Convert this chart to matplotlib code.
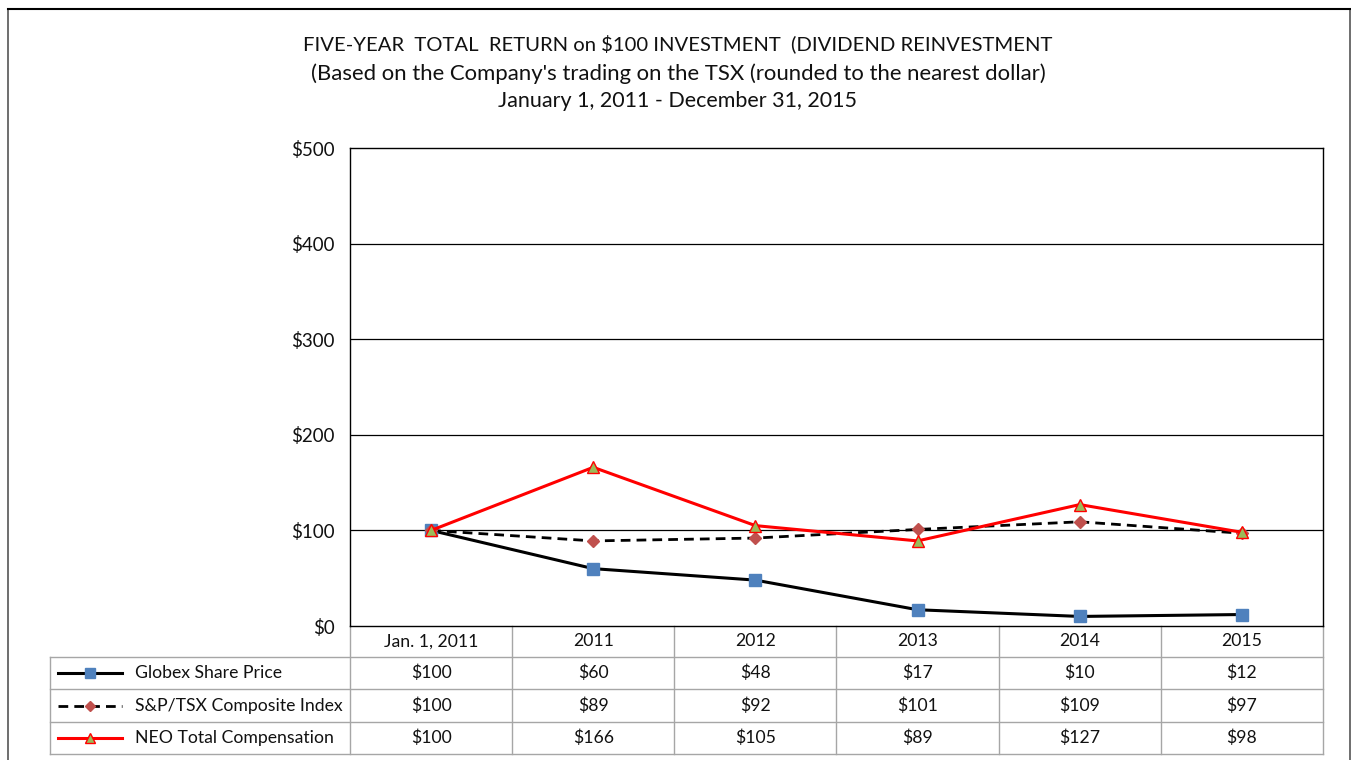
import matplotlib
matplotlib.use("Agg")
import matplotlib.pyplot as plt
from matplotlib.lines import Line2D
import matplotlib.transforms as mtransforms

plt.rcParams['font.family'] = ['Lato', 'DejaVu Sans']

categories = ["Jan. 1, 2011", "2011", "2012", "2013", "2014", "2015"]
globex = [100, 60, 48, 17, 10, 12]
sptsx = [100, 89, 92, 101, 109, 97]
neo = [100, 166, 105, 89, 127, 98]
series_names = ["Globex Share Price", "S&P/TSX Composite Index", "NEO Total Compensation"]
yticks = [0, 100, 200, 300, 400, 500]
title_lines = ["FIVE-YEAR  TOTAL  RETURN on $100 INVESTMENT  (DIVIDEND REINVESTMENT",
               "(Based on the Company's trading on the TSX (rounded to the nearest dollar)",
               "January 1, 2011 - December 31, 2015"]

W, H = 1351, 760
fig = plt.figure(figsize=(W / 100, H / 100), dpi=100)

# overlay axes in pixel coordinates
ov = fig.add_axes([0, 0, 1, 1])
ov.set_xlim(0, W)
ov.set_ylim(H, 0)
ov.axis('off')

# outer frame
ov.plot([8, 8, 1350, 1350], [H + 5, 9, 9, H + 5], color='#555555', lw=1.2, solid_joinstyle='miter')
ov.plot([8, 1350], [9, 9], color='black', lw=1.5)

# title
for t, y, fs in zip(title_lines, [44, 74, 101], [14.6, 15.9, 15.5]):
    ov.text(678, y, t, ha='center', va='center', fontsize=fs, color='#111111')

left, right, top, bottom = 350, 1323, 148, 626
ax = fig.add_axes([left / W, 1 - bottom / H, (right - left) / W, (bottom - top) / H])
ax.set_zorder(2)
ax.patch.set_alpha(0)
x = list(range(len(categories)))

styles = [
    dict(color='black', lw=2.2, ls='-', marker='s', mfc='#4F81BD', mec='#4F81BD', ms=8),
    dict(color='black', lw=2.0, ls=(0, (3.5, 2.2)), marker='D', mfc='#C0504D', mec='#C0504D', ms=6.5),
    dict(color='#FF0000', lw=2.2, ls='-', marker='^', mfc='#9BBB59', mec='#FF0000', ms=9, mew=1.0),
]
for vals, st in zip([globex, sptsx, neo], styles):
    ax.plot(x, vals, clip_on=False, **st)

ax.set_xlim(-0.5, len(categories) - 0.5)
ax.set_ylim(0, 500)
ax.set_yticks(yticks)
ax.set_yticklabels([f"${v}" for v in yticks], fontsize=13.5, color='#111111')
ax.tick_params(axis='y', length=0, pad=11)
ax.set_xticks([])
for v in yticks[1:-1]:
    ax.axhline(v, color='black', lw=0.9, zorder=0)
for s in ax.spines.values():
    s.set_color('black')
    s.set_linewidth(1.0)

# data table
trans = mtransforms.blended_transform_factory(ax.transData, ov.transData)
row_edges = [626, 657, 689, 722, 754]
gc = '#A6A6A6'
tfs = 12.7
for i in range(len(categories) + 1):
    xb = i - 0.5
    ov.plot([xb, xb], [row_edges[0], row_edges[-1]], color=gc, lw=1.0, transform=trans)
for ye in row_edges[1:]:
    ov.plot([50, 1323], [ye, ye], color=gc, lw=1.0)
ov.plot([50, 50], [row_edges[1], row_edges[-1]], color=gc, lw=1.0)

for i, c in enumerate(categories):
    ov.text(i, (row_edges[0] + row_edges[1]) / 2, c, ha='center', va='center',
            fontsize=tfs, color='#111111', transform=trans)

for r, (name, vals, st) in enumerate(zip(series_names, [globex, sptsx, neo], styles)):
    yc = (row_edges[r + 1] + row_edges[r + 2]) / 2
    ov.add_line(Line2D([58, 122], [yc, yc], color=st['color'], lw=st['lw'], ls=st['ls']))
    ov.plot([90], [yc], marker=st['marker'], mfc=st['mfc'], mec=st['mec'],
            ms=st['ms'] * 0.85, mew=st.get('mew', 1.0), ls='none')
    ov.text(135, yc, name, ha='left', va='center', fontsize=tfs, color='#111111')
    for i, v in enumerate(vals):
        ov.text(i, yc, f"${v}", ha='center', va='center', fontsize=tfs,
                color='#111111', transform=trans)

fig.savefig("out.png", dpi=100)
